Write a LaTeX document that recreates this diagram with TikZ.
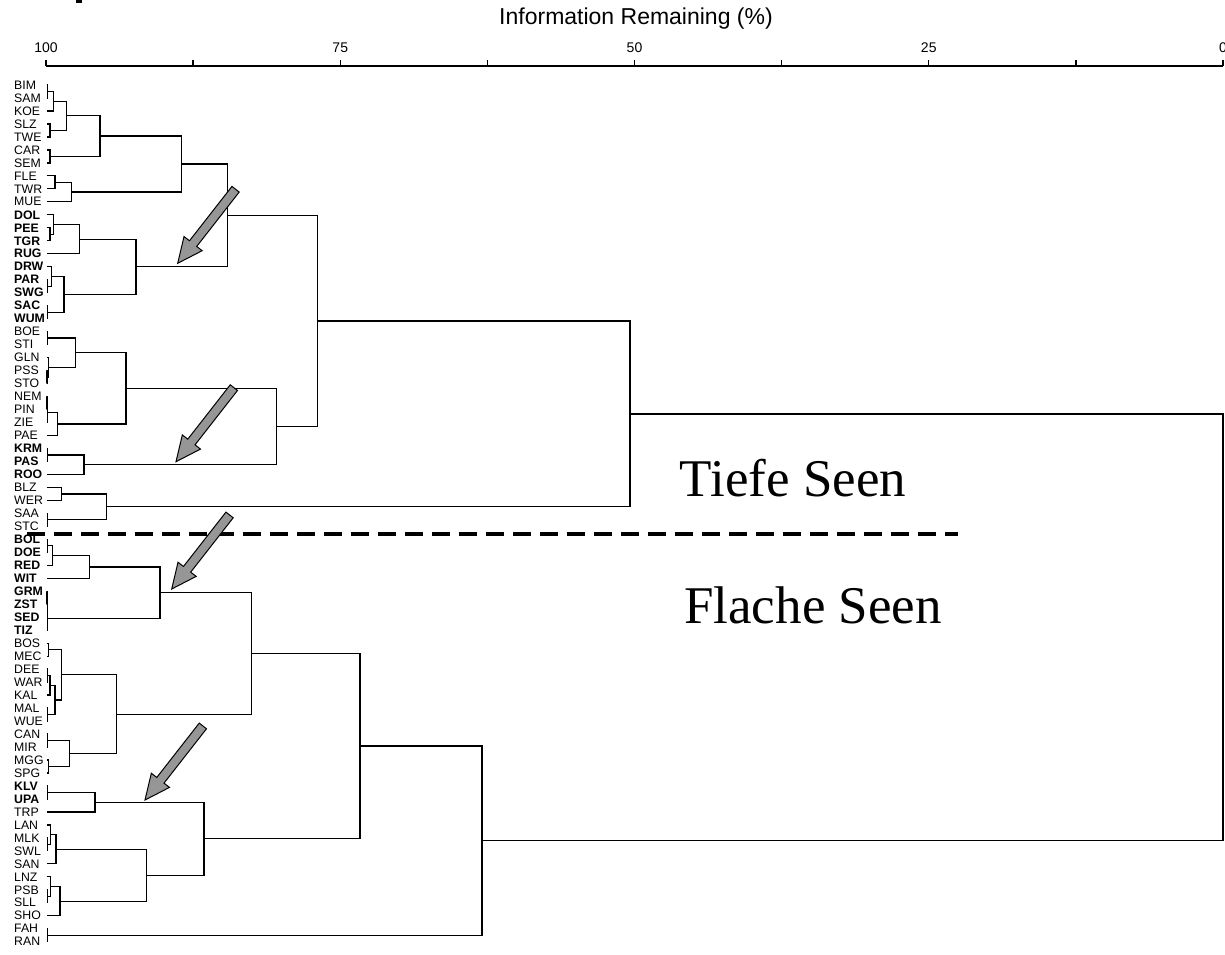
\documentclass[tikz,border=0pt]{standalone}
\usepackage{fontspec}
\setmainfont{Liberation Sans}
\newfontfamily\seefont{Liberation Serif}
\usetikzlibrary{calc}
\definecolor{arrowgray}{RGB}{150,150,150}

% bracket joining two clusters at horizontal position #4
\newcommand\merge[4]{%
  \path ($(#2)!0.5!(#3)$) coordinate (#1-c);
  \coordinate (#1) at (#4,0 |- #1-c);
  \draw[dline] (#2) -| (#1) |- (#3);}

% grey pointer with its tip at (#1,#2)
\newcommand\pointerat[3]{%
  \begin{scope}[shift={(#2,#3)}, rotate=232]
    \draw[arrowbody] (0,0) coordinate (#1) -- (-25,11.5) -- (-25,4.6) -- (-94,4.6)
      -- (-94,-4.6) -- (-25,-4.6) -- (-25,-11.5) -- cycle;
  \end{scope}}

\newcommand\wn{\mdseries}
\newcommand\wb{\bfseries}

\begin{document}
\begin{tikzpicture}[x=1pt,y=-1pt,
  dline/.style={line width=1.25pt},
  lab/.style={anchor=west, inner sep=0pt, font=\fontsize{12.3}{12.3}\selectfont},
  ticklab/.style={inner sep=0pt, font=\fontsize{14}{14}\selectfont},
  arrowbody/.style={draw=black, line width=1pt, fill=arrowgray, line join=miter},
  grouplab/.style={inner sep=0pt, font=\seefont\fontsize{53}{53}\selectfont},
]
\useasboundingbox (0,0) rectangle (1225,954);
\fill[white] (0,0) rectangle (1225,954);

% small mark at the top edge
\fill (76,0) rectangle (82,3);

% axis
\node[inner sep=0pt, font=\fontsize{23}{23}\selectfont] (title) at (636,19) {Information Remaining (\%)};
\draw[line width=1.8pt] (46,65.6) -- (1223,65.6);
\foreach \k in {0,...,8} {
  \draw[line width=1.3pt] ({46+147.125*\k},65.6) -- ({46+147.125*\k},60);
}
\node[ticklab] (tk100) at (46,48) {100};
\node[ticklab] (tk75) at (340.25,48) {75};
\node[ticklab] (tk50) at (634.5,48) {50};
\node[ticklab] (tk25) at (928.75,48) {25};
\node[ticklab] (tk0) at (1223,48) {0};

% leaves
\foreach \n/\w [count=\i from 0] in {
  BIM/\wn,SAM/\wn,KOE/\wn,SLZ/\wn,TWE/\wn,CAR/\wn,SEM/\wn,FLE/\wn,TWR/\wn,MUE/\wn,
  DOL/\wb,PEE/\wb,TGR/\wb,RUG/\wb,DRW/\wb,PAR/\wb,SWG/\wb,SAC/\wb,WUM/\wb,
  BOE/\wn,STI/\wn,GLN/\wn,PSS/\wn,STO/\wn,NEM/\wn,PIN/\wn,ZIE/\wn,PAE/\wn,
  KRM/\wb,PAS/\wb,ROO/\wb,
  BLZ/\wn,WER/\wn,SAA/\wn,STC/\wn,
  BOL/\wb,DOE/\wb,RED/\wb,WIT/\wb,GRM/\wb,ZST/\wb,SED/\wb,TIZ/\wb,
  BOS/\wn,MEC/\wn,DEE/\wn,WAR/\wn,KAL/\wn,MAL/\wn,WUE/\wn,CAN/\wn,MIR/\wn,MGG/\wn,SPG/\wn,
  KLV/\wb,UPA/\wb,
  TRP/\wn,LAN/\wn,MLK/\wn,SWL/\wn,SAN/\wn,LNZ/\wn,PSB/\wn,SLL/\wn,SHO/\wn,FAH/\wn,RAN/\wn} {
  \node[lab] (t-\n) at (14,{85+12.98*\i}) {\w\n};
  \coordinate (\n) at (46.5,{85+12.98*\i});
}

% upper clusters
\merge{m1}{BIM}{SAM}{47.2}
\merge{m2}{m1}{KOE}{53.3}
\merge{m3}{SLZ}{TWE}{50}
\merge{m4}{m2}{m3}{66.7}
\merge{m5}{CAR}{SEM}{50}
\merge{A1}{m4}{m5}{100}
\merge{m6}{FLE}{TWR}{55}
\merge{A2}{m6}{MUE}{71.7}
\merge{A}{A1}{A2}{181.7}
\merge{b1}{PEE}{TGR}{50}
\merge{b2}{DOL}{b1}{53.3}
\merge{B1}{b2}{RUG}{79.3}
\merge{b3}{PAR}{SWG}{47.2}
\merge{b4}{DRW}{b3}{51.7}
\merge{b5}{SAC}{WUM}{47.2}
\merge{B2}{b4}{b5}{64}
\merge{B}{B1}{B2}{136}
\merge{AB}{A}{B}{227.3}
\merge{c1}{BOE}{STI}{47.2}
\merge{c2}{PSS}{STO}{47}
\merge{c3}{GLN}{c2}{48.7}
\merge{C1}{c1}{c3}{75.7}
\merge{c4}{NEM}{PIN}{47}
\merge{c5}{c4}{ZIE}{47.5}
\merge{C2}{c5}{PAE}{57.3}
\merge{C}{C1}{C2}{126}
\merge{d1}{KRM}{PAS}{47.5}
\merge{D}{d1}{ROO}{84}
\merge{CD}{C}{D}{276.7}
\merge{ABCD}{AB}{CD}{317.3}
\merge{e1}{BLZ}{WER}{61.7}
\merge{e2}{SAA}{STC}{47.2}
\merge{E}{e1}{e2}{106.7}
\merge{TOP}{ABCD}{E}{630}

% lower clusters
\merge{f1}{BOL}{DOE}{47.2}
\merge{f2}{f1}{RED}{52.7}
\merge{F}{f2}{WIT}{89.3}
\merge{g1}{GRM}{ZST}{47}
\merge{g2}{g1}{SED}{47.3}
\merge{G}{g2}{TIZ}{47.6}
\merge{FG}{F}{G}{160}
\merge{h1}{BOS}{MEC}{48.3}
\merge{h2}{DEE}{WAR}{47.2}
\merge{h3}{h2}{KAL}{50}
\merge{h4}{MAL}{WUE}{47.2}
\merge{h5}{h3}{h4}{55}
\merge{H1}{h1}{h5}{61.7}
\merge{h6}{CAN}{MIR}{47.2}
\merge{h7}{MGG}{SPG}{48.3}
\merge{H2}{h6}{h7}{69.3}
\merge{H}{H1}{H2}{116.7}
\merge{FGH}{FG}{H}{251.7}
\merge{i1}{KLV}{UPA}{47.2}
\merge{I}{i1}{TRP}{95}
\merge{j1}{MLK}{SWL}{47.3}
\merge{j2}{LAN}{j1}{50.7}
\merge{J}{j2}{SAN}{56}
\merge{k1}{PSB}{SLL}{47.3}
\merge{k2}{LNZ}{k1}{50.7}
\merge{K}{k2}{SHO}{60}
\merge{JK}{J}{K}{146.7}
\merge{IJK}{I}{JK}{204}
\merge{FGHIJK}{FGH}{IJK}{360}
\merge{L}{FAH}{RAN}{47.5}
\merge{BOT}{FGHIJK}{L}{482}
\merge{ROOT}{TOP}{BOT}{1223}

% separation of the two lake groups
\draw[line width=4pt, dash pattern=on 18pt off 9pt] (27,534) -- (958,534);
\node[grouplab] (tiefe) at (793,478) {Tiefe Seen};
\node[grouplab] (flache) at (813,605) {Flache Seen};

% pointers
\pointerat{p1}{177.7}{263.3}
\pointerat{p2}{176}{461.7}
\pointerat{p3}{171.7}{589}
\pointerat{p4}{145}{800}
\end{tikzpicture}
\end{document}
